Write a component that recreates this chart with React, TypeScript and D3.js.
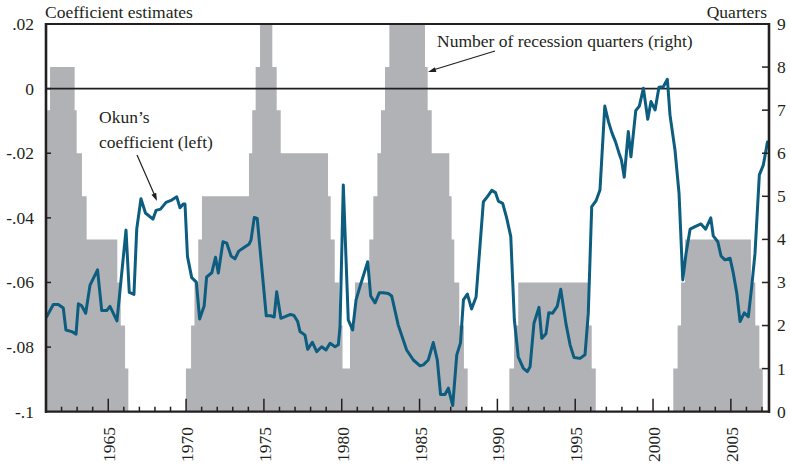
import React from "react";
import * as d3 from "d3";

// ---- Data ----
// Okun's coefficient (left axis)
const okunYears = [
  1961.04, 1961.47, 1961.79, 1962.11, 1962.28, 1962.65, 1962.93, 1963.08, 1963.29, 1963.55,
  1963.83, 1964.31, 1964.58, 1964.9, 1965.11, 1965.32, 1965.56, 1966.14, 1966.35, 1966.65,
  1966.83, 1967.1, 1967.39, 1967.87, 1968.07, 1968.36, 1968.71, 1969.08, 1969.4, 1969.61,
  1969.82, 1969.93, 1970.09, 1970.36, 1970.66, 1970.87, 1971.16, 1971.32, 1971.65, 1971.89,
  1972.07, 1972.37, 1972.61, 1972.89, 1973.14, 1973.38, 1973.72, 1974.04, 1974.17, 1974.38,
  1974.57, 1975.15, 1975.44, 1975.66, 1975.82, 1976.09, 1976.36, 1976.71, 1976.93, 1977.17,
  1977.32, 1977.64, 1977.81, 1978.11, 1978.39, 1978.71, 1978.99, 1979.25, 1979.57, 1979.78,
  1979.89, 1980.1, 1980.42, 1980.7, 1980.92, 1981.17, 1981.67, 1981.86, 1982.14, 1982.41,
  1982.67, 1982.99, 1983.21, 1983.63, 1984.17, 1984.6, 1985.03, 1985.24, 1985.56, 1985.88,
  1986.14, 1986.35, 1986.63, 1986.85, 1987.13, 1987.39, 1987.63, 1987.82, 1988.07, 1988.34,
  1988.63, 1989.1, 1989.35, 1989.64, 1989.88, 1990.06, 1990.34, 1990.6, 1990.86, 1991.09,
  1991.34, 1991.67, 1991.92, 1992.1, 1992.35, 1992.67, 1992.85, 1993.12, 1993.3, 1993.55,
  1993.85, 1994.07, 1994.41, 1994.67, 1994.92, 1995.31, 1995.63, 1995.84, 1996.06, 1996.34,
  1996.59, 1996.9, 1997.14, 1997.36, 1997.59, 1997.81, 1997.97, 1998.15, 1998.41, 1998.58,
  1998.89, 1999.12, 1999.38, 1999.66, 1999.87, 2000.13, 2000.38, 2000.66, 2000.92, 2001.09,
  2001.41, 2001.67, 2001.91, 2002.12, 2002.38, 2002.7, 2003.08, 2003.38, 2003.71, 2003.87,
  2004.16, 2004.37, 2004.62, 2004.95, 2005.16, 2005.38, 2005.59, 2005.86, 2006.12, 2006.34,
  2006.55, 2006.83, 2007.09, 2007.35,
];
const okunValues = [
  -0.0706, -0.0668, -0.0668, -0.0679, -0.0747, -0.0752, -0.076, -0.0666, -0.0672, -0.0695,
  -0.0608, -0.0561, -0.0687, -0.0687, -0.0674, -0.0695, -0.0719, -0.0438, -0.0631, -0.0637,
  -0.0434, -0.0341, -0.0385, -0.0404, -0.0377, -0.0373, -0.0352, -0.0345, -0.0335, -0.0369,
  -0.0357, -0.0357, -0.052, -0.0585, -0.0599, -0.0713, -0.0673, -0.0583, -0.057, -0.0522,
  -0.0571, -0.0474, -0.0478, -0.0518, -0.0527, -0.0503, -0.0492, -0.0482, -0.0469, -0.0399,
  -0.0402, -0.0703, -0.0703, -0.0707, -0.0629, -0.0711, -0.0706, -0.0699, -0.0702, -0.0721,
  -0.0752, -0.0763, -0.0807, -0.0785, -0.0814, -0.0799, -0.0809, -0.0788, -0.0799, -0.0793,
  -0.0737, -0.0298, -0.0716, -0.0747, -0.0654, -0.0613, -0.0536, -0.0642, -0.0663, -0.0632,
  -0.0632, -0.0634, -0.0642, -0.0732, -0.0809, -0.084, -0.0858, -0.0855, -0.084, -0.0786,
  -0.084, -0.0947, -0.0947, -0.0927, -0.0981, -0.0824, -0.0787, -0.0654, -0.0636, -0.0682,
  -0.0645, -0.035, -0.0335, -0.0315, -0.0322, -0.0348, -0.0355, -0.0401, -0.0458, -0.0716,
  -0.083, -0.0866, -0.0876, -0.0861, -0.0726, -0.0677, -0.0773, -0.0759, -0.0694, -0.0695,
  -0.0673, -0.0621, -0.0729, -0.0793, -0.0832, -0.0835, -0.0824, -0.0695, -0.0365, -0.0347,
  -0.0314, -0.0054, -0.0103, -0.0137, -0.0165, -0.0199, -0.0221, -0.0274, -0.0133, -0.0211,
  -0.0068, -0.0054, 0.0001, -0.0095, -0.004, -0.0066, 0.0004, 0.0006, 0.0029, -0.0082,
  -0.019, -0.0324, -0.0592, -0.051, -0.0435, -0.0427, -0.0419, -0.0435, -0.04, -0.0456,
  -0.0474, -0.0518, -0.053, -0.0525, -0.0572, -0.0633, -0.0721, -0.0694, -0.0706, -0.0613,
  -0.051, -0.0267, -0.0236, -0.0165,
];

// Number of recession quarters (right axis): step change points
const recessionYears = [
  1961.0, 1961.08, 1961.26, 1962.84, 1962.97, 1963.31, 1963.61, 1965.58, 1965.8, 1966.08,
  1966.29, 1969.99, 1970.32, 1970.54, 1970.78, 1971.02, 1974.04, 1974.25, 1974.47, 1974.75,
  1975.54, 1975.82, 1976.08, 1979.12, 1979.29, 1979.55, 1979.82, 1980.05, 1980.53, 1980.85,
  1981.77, 1982.03, 1982.29, 1982.52, 1982.78, 1983.06, 1985.35, 1985.52, 1985.78, 1986.91,
  1987.06, 1987.23, 1987.55, 1987.85, 1988.09, 1990.77, 1991.07, 1991.34, 1995.89, 1996.06,
  1996.32, 2001.3, 2001.58, 2001.8, 2002.05, 2006.29, 2006.57, 2006.83, 2007.05, 2007.45,
];
const recessionCounts = [
  6, 7, 8, 7, 6, 5, 4, 3, 2, 1,
  0, 1, 2, 3, 4, 5, 6, 7, 8, 9,
  8, 7, 6, 5, 4, 3, 2, 1, 2, 3,
  4, 5, 6, 7, 8, 9, 8, 7, 6, 5,
  4, 3, 2, 1, 0, 1, 2, 3, 2, 1,
  0, 1, 2, 3, 4, 3, 2, 1, 0, 0,
];

const leftTickValues = [0.02, 0, -0.02, -0.04, -0.06, -0.08, -0.1];
const leftTickLabels = [".02", "0", "-.02", "-.04", "-.06", "-.08", "-.1"];
const rightTickValues = [0, 1, 2, 3, 4, 5, 6, 7, 8, 9];
const yearMajorTicks = [1965, 1970, 1975, 1980, 1985, 1990, 1995, 2000, 2005];
const yearMinorTicks = d3.range(1962, 2008);

const xDomain = [1961, 2007.45];
const leftDomain = [-0.1, 0.02];
const rightDomain = [0, 9];

// ---- Layout / style ----
const W = 790;
const H = 467;
const PL = 46;
const PR = 769;
const PT = 24;
const PB = 411.7;
const INK = "#231f20";
const GRAY = "#b1b2b5";
const LINE = "#0c5d80";
const FONT = "'Liberation Serif', 'Times New Roman', serif";
const FS = 17.5;

export default function App() {
  const x = d3.scaleLinear().domain(xDomain).range([PL, PR]);
  const yL = d3.scaleLinear().domain(leftDomain).range([PB, PT]);
  const yR = d3.scaleLinear().domain(rightDomain).range([PB, PT]);

  const stepData = recessionYears.map((yr, i) => ({ yr, v: recessionCounts[i] }));
  const area = d3
    .area<{ yr: number; v: number }>()
    .x((d) => x(d.yr))
    .y0(yR(0))
    .y1((d) => yR(d.v))
    .curve(d3.curveStepAfter);

  const lineData = okunYears.map((yr, i) => ({ yr, v: okunValues[i] }));
  const line = d3
    .line<{ yr: number; v: number }>()
    .x((d) => x(d.yr))
    .y((d) => yL(d.v))
    .curve(d3.curveLinear);

  const arrowHead = (x1: number, y1: number, x2: number, y2: number, len = 8, half = 2.6) => {
    const a = Math.atan2(y2 - y1, x2 - x1);
    const bx = x2 - len * Math.cos(a);
    const by = y2 - len * Math.sin(a);
    const px = -Math.sin(a) * half;
    const py = Math.cos(a) * half;
    return `M${x2},${y2}L${bx + px},${by + py}L${bx - px},${by - py}Z`;
  };

  return (
    <svg
      width={W}
      height={H}
      style={{ position: "absolute", left: 0, top: 0, background: "#fff" }}
      fontFamily={FONT}
    >
      <rect x={0} y={0} width={W} height={H} fill="#fff" />
      {/* recession step area */}
      <path d={area(stepData) || ""} fill={GRAY} stroke="none" />
      {/* zero line */}
      <line x1={PL} x2={PR} y1={yL(0)} y2={yL(0)} stroke={INK} strokeWidth={1.8} />
      {/* Okun line */}
      <path
        d={line(lineData) || ""}
        fill="none"
        stroke={LINE}
        strokeWidth={3}
        strokeLinejoin="round"
        strokeLinecap="round"
      />

      {/* frame */}
      <line x1={PL} x2={PR} y1={PT} y2={PT} stroke={INK} strokeWidth={1.8} />
      <line x1={PL - 1} x2={PR + 1} y1={PB} y2={PB} stroke={INK} strokeWidth={2.2} />
      <line x1={PL} x2={PL} y1={PT - 0.9} y2={PB + 1} stroke={INK} strokeWidth={2.6} />
      <line x1={PR} x2={PR} y1={PT - 0.9} y2={PB + 1} stroke={INK} strokeWidth={2.6} />

      {/* bottom ticks */}
      {yearMinorTicks.map((yr) => (
        <line
          key={"m" + yr}
          x1={x(yr)}
          x2={x(yr)}
          y1={PB}
          y2={PB - (yearMajorTicks.includes(yr) ? 13 : 5)}
          stroke={INK}
          strokeWidth={1.5}
        />
      ))}
      {yearMajorTicks.map((yr) => (
        <text
          key={"yl" + yr}
          transform={`translate(${x(yr) + 1},${427}) rotate(-90)`}
          textAnchor="end"
          dy="0.34em"
          fontSize={FS}
          fill={INK}
        >
          {yr}
        </text>
      ))}

      {/* left ticks */}
      {leftTickValues.map((v, i) => (
        <g key={"l" + v}>
          {i > 0 && i < leftTickValues.length - 1 && (
            <line x1={PL} x2={PL + 5} y1={yL(v)} y2={yL(v)} stroke={INK} strokeWidth={1.5} />
          )}
          <text
            x={34}
            y={yL(v)}
            dy="0.34em"
            textAnchor="end"
            fontSize={FS}
            fill={INK}
          >
            {leftTickLabels[i]}
          </text>
        </g>
      ))}

      {/* right ticks */}
      {rightTickValues.map((v) => (
        <g key={"r" + v}>
          {v > 0 && v < 9 && (
            <line x1={PR - 7} x2={PR} y1={yR(v)} y2={yR(v)} stroke={INK} strokeWidth={1.5} />
          )}
          <text x={777} y={yR(v)} dy="0.34em" textAnchor="start" fontSize={FS} fill={INK}>
            {v}
          </text>
        </g>
      ))}

      {/* axis titles */}
      <text x={45} y={18} fontSize={FS} fill={INK}>
        Coefficient estimates
      </text>
      <text x={767} y={18} textAnchor="end" fontSize={FS} fill={INK}>
        Quarters
      </text>

      {/* annotations */}
      <text x={437} y={47} fontSize={FS} fill={INK}>
        Number of recession quarters (right)
      </text>
      <line x1={495} y1={51} x2={433} y2={70} stroke={INK} strokeWidth={1.2} />
      <path d={arrowHead(495, 51, 428, 72)} fill={INK} />

      <text x={99} y={123} fontSize={FS} fill={INK}>
        Okun’s
      </text>
      <text x={99} y={148} fontSize={FS} fill={INK}>
        coefficient (left)
      </text>
      <line x1={137} y1={155} x2={155} y2={196} stroke={INK} strokeWidth={1.2} />
      <path d={arrowHead(137, 155, 157, 201)} fill={INK} />
    </svg>
  );
}
